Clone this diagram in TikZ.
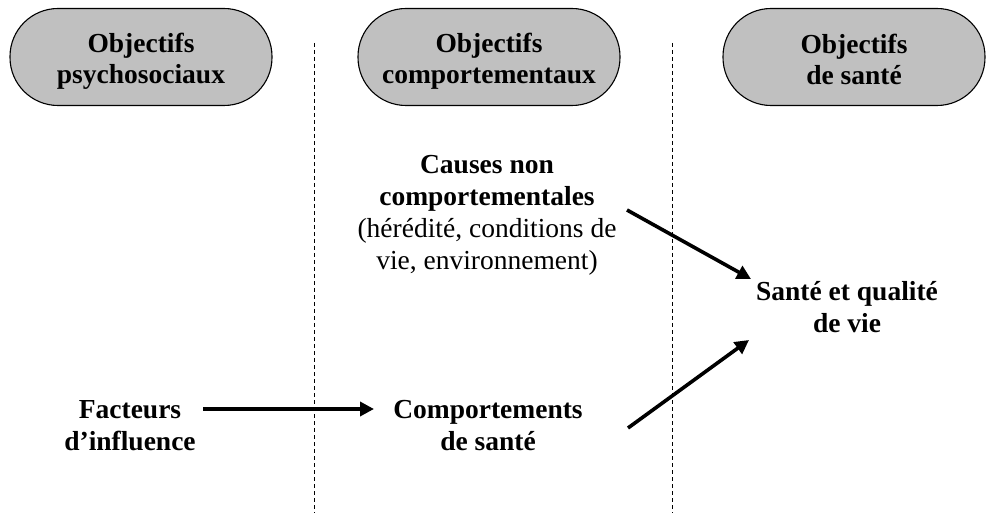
\documentclass[tikz,border=0pt]{standalone}
\usepackage{fontspec}
\setmainfont{Liberation Serif}
\usetikzlibrary{arrows.meta}
\definecolor{boxgray}{HTML}{C0C0C0}
\tikzset{
  header/.style={draw=black, line width=1.1pt, fill=boxgray, rounded corners=48pt,
    minimum width=262pt, minimum height=97pt, inner sep=0pt, align=center},
  label/.style={inner sep=0pt, align=center, font=\fontsize{27.5}{32}\selectfont\bfseries},
  divider/.style={line width=0.9pt, dash pattern=on 4pt off 3pt},
  flow/.style={line width=3.6pt, -{Triangle[length=14pt,width=14pt]}}
}
\begin{document}
\begin{tikzpicture}[x=1pt,y=-1pt]
\useasboundingbox (0,0) rectangle (986,513);
% dividers
\coordinate (d1top) at (314,43);
\coordinate (d1bot) at (314,513);
\coordinate (d2top) at (672,43);
\coordinate (d2bot) at (672,513);
\draw[divider] (d1top) -- (d1bot);
\draw[divider] (d2top) -- (d2bot);
% headers
\node[header] (h1) at (141,57) {};
\node[header] (h2) at (489,57) {};
\node[header] (h3) at (854,57) {};
\node[label, font=\fontsize{27.5}{31}\selectfont\bfseries] (t1) at (141,61) {Objectifs\\psychosociaux};
\node[label, font=\fontsize{27.5}{31}\selectfont\bfseries] (t2) at (489,61) {Objectifs\\comportementaux};
\node[label, font=\fontsize{27.5}{31}\selectfont\bfseries] (t3) at (854,59) {Objectifs\\de santé};
% content
\node[label] (causes) at (487,215) {Causes non\\comportementales\\{\mdseries(hérédité, conditions de}\\{\mdseries vie, environnement)}};
\node[label] (sante) at (847,307) {Santé et qualité\\de vie};
\node[label] (fact) at (130,426) {Facteurs\\d’influence};
\node[label] (comp) at (488,426) {Comportements\\de santé};
% arrows
\coordinate (a1s) at (203,409);
\coordinate (a1e) at (374,409);
\coordinate (a2s) at (627,210);
\coordinate (a2e) at (751,279);
\coordinate (a3s) at (628,428);
\coordinate (a3e) at (749,340);
\draw[flow] (a1s) -- (a1e);
\draw[flow] (a2s) -- (a2e);
\draw[flow] (a3s) -- (a3e);
\end{tikzpicture}
\end{document}
